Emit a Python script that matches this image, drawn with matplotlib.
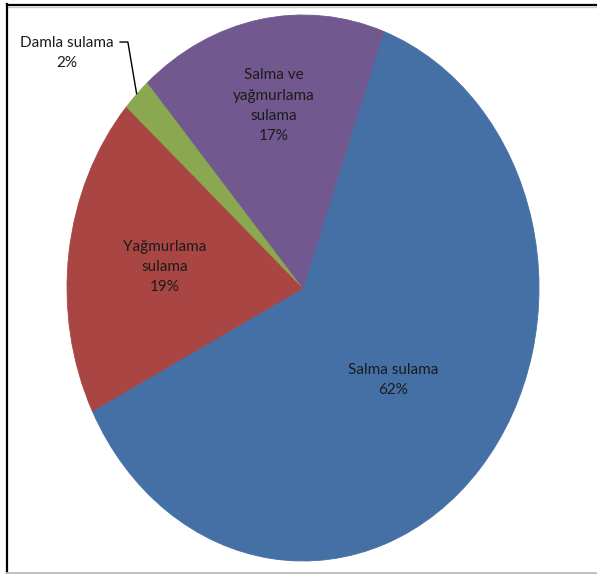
import numpy as np
import matplotlib.pyplot as plt
from matplotlib.lines import Line2D

# irrigation methods and their shares (%)
categories = ['Salma sulama', 'Yağmurlama\nsulama', 'Damla sulama',
              'Salma ve\nyağmurlama\nsulama']
shares = [62, 19, 2, 17]
colors = ['#4470A5', '#A94542', '#8AA84F', '#71588F']

W, H = 597, 574
fig = plt.figure(figsize=(W / 100, H / 100), dpi=100)
fig.patch.set_facecolor('white')

# pie centre and radii in pixels (the pie is drawn slightly tall)
cx, cy, rx, ry = 303, 288, 236, 273
ax = fig.add_axes([(cx - rx) / W, (H - cy - ry) / H, 2 * rx / W, 2 * ry / H])
wedges, _ = ax.pie(shares, colors=colors, startangle=70, counterclock=False,
                   radius=1, wedgeprops=dict(linewidth=0.6))
for w in wedges:
    w.set_edgecolor(w.get_facecolor())
ax.set_aspect('auto')
ax.set_xlim(-1, 1)
ax.set_ylim(-1, 1)

font = dict(family=['Lato', 'DejaVu Sans'], fontsize=11, color='#1b1b1b',
            linespacing=1.55, ha='center', va='center')

# label distance from centre, per slice (None -> outside with leader)
label_r = [0.51, 0.59, None, 0.68]
for w, cat, val, r in zip(wedges, categories, shares, label_r):
    mid = np.deg2rad((w.theta1 + w.theta2) / 2)
    txt = f'{cat}\n{val}%'
    if r is not None:
        ax.text(r * np.cos(mid), r * np.sin(mid), txt, **font)
    else:
        ex, ey = np.cos(mid), np.sin(mid)
        ax.plot([ex, -0.742, -0.778], [ey, 0.901, 0.901], color='black',
                lw=1.0, clip_on=False, solid_capstyle='butt')
        ax.text(-1.0, 0.862, txt, **font)

# outer frame of the chart area
fig.add_artist(Line2D([7 / W, 1], [1 - 4.5 / H, 1 - 4.5 / H], color='black', lw=1.6))
fig.add_artist(Line2D([7 / W, 1], [1 - 6.5 / H, 1 - 6.5 / H], color='#cccccc', lw=1.0))
fig.add_artist(Line2D([7 / W, 7 / W], [1.5 / H, 1 - 4 / H], color='black', lw=1.6))
fig.add_artist(Line2D([7 / W, 1], [1.2 / H, 1.2 / H], color='#bdbdbd', lw=2.0))

fig.savefig('out.png', dpi=100)
